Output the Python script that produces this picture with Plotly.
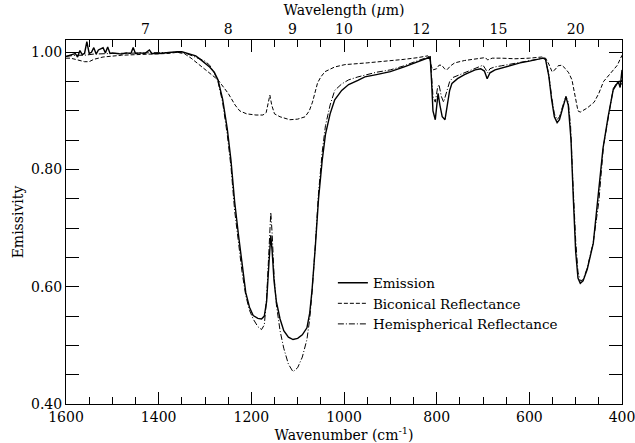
import plotly.graph_objects as go

# ---- data (wavenumber cm^-1, emissivity) ----
emis_wn = [1600, 1590, 1580, 1575, 1570, 1565, 1560, 1555, 1550, 1545, 1540, 1535, 1530, 1525,
           1520, 1515, 1510, 1505, 1500, 1490, 1480, 1470, 1460, 1455, 1450, 1440, 1430, 1420,
           1415, 1400, 1390, 1380, 1370, 1360, 1350, 1340, 1330, 1320, 1310, 1300, 1290, 1280,
           1272, 1262, 1252, 1244, 1236, 1228, 1220, 1212, 1204, 1196, 1186, 1178, 1172, 1167,
           1162, 1158, 1155, 1151, 1146, 1138, 1130, 1120, 1110, 1100, 1090, 1080, 1074, 1069,
           1062, 1055, 1047, 1040, 1030, 1020, 1005, 990, 970, 955, 930, 900, 870, 847, 830, 818,
           814, 811, 808, 803, 800, 797, 793, 788, 782, 777, 772, 767, 755, 740, 725, 717, 705,
           697, 691, 685, 674, 660, 640, 620, 600, 580, 570, 565, 558, 552, 546, 540, 535, 528,
           521, 516, 510, 505, 500, 495, 490, 484, 475, 462, 451, 441, 430, 419, 412, 408, 404,
           402, 400]
emis_val = [0.993, 0.995, 0.998, 0.992, 1.003, 0.996, 0.998, 1.018, 0.998, 1.000, 1.008, 0.997,
            1.004, 1.006, 1.008, 0.999, 1.009, 0.998, 0.999, 0.998, 0.997, 0.999, 0.998, 1.008,
            0.998, 0.999, 0.998, 1.004, 0.998, 0.998, 0.999, 0.999, 1.000, 1.001, 1.001, 0.999,
            0.997, 0.994, 0.988, 0.982, 0.975, 0.966, 0.953, 0.920, 0.870, 0.816, 0.745, 0.690,
            0.635, 0.590, 0.565, 0.551, 0.546, 0.545, 0.550, 0.575, 0.640, 0.688, 0.660, 0.610,
            0.575, 0.545, 0.525, 0.514, 0.510, 0.512, 0.518, 0.530, 0.555, 0.594, 0.667, 0.750,
            0.816, 0.860, 0.895, 0.919, 0.935, 0.945, 0.952, 0.958, 0.962, 0.967, 0.975, 0.982,
            0.987, 0.991, 0.992, 0.950, 0.900, 0.885, 0.910, 0.930, 0.910, 0.890, 0.885, 0.910,
            0.935, 0.947, 0.955, 0.962, 0.967, 0.970, 0.972, 0.968, 0.955, 0.965, 0.970, 0.973,
            0.978, 0.982, 0.985, 0.988, 0.990, 0.988, 0.960, 0.920, 0.890, 0.880, 0.885, 0.905,
            0.924, 0.910, 0.850, 0.750, 0.660, 0.615, 0.606, 0.610, 0.630, 0.674, 0.765, 0.836,
            0.890, 0.936, 0.945, 0.950, 0.940, 0.955, 0.970]

bicon_wn = [1600, 1590, 1580, 1570, 1560, 1550, 1540, 1520, 1500, 1480, 1450, 1420, 1400, 1380,
            1360, 1345, 1330, 1311, 1290, 1272, 1250, 1235, 1225, 1210, 1190, 1175, 1168, 1163,
            1160, 1156, 1150, 1138, 1117, 1100, 1084, 1075, 1068, 1063, 1057, 1050, 1041, 1020,
            998, 950, 918, 870, 840, 819, 815, 811, 808, 800, 795, 789, 783, 778, 770, 761, 740,
            720, 702, 695, 690, 680, 660, 631, 600, 573, 565, 558, 551, 545, 538, 530, 522, 515,
            508, 502, 495, 490, 475, 460, 450, 440, 430, 420, 410, 403, 400]
bicon_val = [0.990, 0.990, 0.988, 0.986, 0.984, 0.984, 0.988, 0.992, 0.994, 0.995, 0.996, 0.997,
             0.997, 0.998, 1.000, 0.998, 0.990, 0.978, 0.965, 0.953, 0.930, 0.910, 0.900, 0.895,
             0.893, 0.893, 0.897, 0.915, 0.927, 0.910, 0.895, 0.890, 0.885, 0.886, 0.890, 0.900,
             0.915, 0.930, 0.948, 0.958, 0.967, 0.975, 0.979, 0.982, 0.984, 0.988, 0.991, 0.994,
             0.990, 0.975, 0.970, 0.972, 0.978, 0.978, 0.972, 0.970, 0.977, 0.982, 0.986, 0.988,
             0.990, 0.991, 0.987, 0.990, 0.990, 0.989, 0.990, 0.992, 0.990, 0.980, 0.967, 0.970,
             0.977, 0.978, 0.972, 0.965, 0.953, 0.930, 0.900, 0.898, 0.905, 0.915, 0.930, 0.950,
             0.960, 0.970, 0.978, 0.990, 0.995]

hemi_wn = [1600, 1580, 1560, 1540, 1500, 1450, 1400, 1360, 1340, 1320, 1300, 1290, 1280, 1272,
           1262, 1252, 1244, 1236, 1228, 1220, 1212, 1204, 1196, 1186, 1178, 1172, 1167, 1162,
           1158, 1155, 1151, 1146, 1138, 1130, 1120, 1110, 1100, 1090, 1080, 1074, 1069, 1062,
           1055, 1047, 1040, 1030, 1020, 1005, 990, 970, 950, 930, 900, 870, 847, 830, 814, 811,
           808, 803, 798, 795, 790, 785, 780, 772, 765, 750, 735, 720, 710, 700, 695, 690, 685,
           675, 660, 640, 620, 600, 580, 570, 565, 558, 552, 546, 540, 535, 528, 521, 516, 511,
           506, 500, 495, 490, 484, 475, 462, 450, 440, 430, 419, 412, 406, 402, 400]
hemi_val = [0.993, 0.995, 0.995, 0.997, 0.998, 0.999, 0.999, 1.000, 0.998, 0.992, 0.985, 0.978,
            0.965, 0.950, 0.915, 0.860, 0.805, 0.730, 0.675, 0.625, 0.585, 0.560, 0.545, 0.532,
            0.527, 0.535, 0.580, 0.660, 0.727, 0.690, 0.620, 0.570, 0.525, 0.495, 0.468, 0.455,
            0.462, 0.480, 0.510, 0.545, 0.590, 0.670, 0.760, 0.830, 0.875, 0.910, 0.935, 0.946,
            0.953, 0.958, 0.962, 0.966, 0.970, 0.977, 0.984, 0.988, 0.993, 0.960, 0.925, 0.915,
            0.940, 0.945, 0.925, 0.915, 0.930, 0.950, 0.957, 0.962, 0.967, 0.972, 0.976, 0.978,
            0.972, 0.965, 0.972, 0.975, 0.977, 0.980, 0.983, 0.986, 0.988, 0.990, 0.988, 0.962,
            0.925, 0.895, 0.885, 0.890, 0.908, 0.925, 0.915, 0.875, 0.780, 0.680, 0.625, 0.610,
            0.612, 0.632, 0.676, 0.745, 0.840, 0.885, 0.938, 0.947, 0.952, 0.945, 0.960]

wavelength_labels = [7, 8, 9, 10, 12, 15, 20]          # micrometres, top axis
wavenumber_ticks = [1600, 1400, 1200, 1000, 800, 600, 400]
emissivity_ticks = [0.40, 0.60, 0.80, 1.00]

FONT = "DejaVu Serif"

fig = go.Figure()
fig.add_trace(go.Scatter(x=emis_wn, y=emis_val, mode="lines", name="Emission",
                         line=dict(color="black", width=1.4)))
fig.add_trace(go.Scatter(x=bicon_wn, y=bicon_val, mode="lines", name="Biconical Reflectance",
                         line=dict(color="black", width=1, dash="4px,2px")))
fig.add_trace(go.Scatter(x=hemi_wn, y=hemi_val, mode="lines", name="Hemispherical Reflectance",
                         line=dict(color="black", width=1, dash="6px,2px,1px,2px")))
# invisible trace to activate the top (wavelength) axis
fig.add_trace(go.Scatter(x=[emis_wn[0], emis_wn[-1]], y=[emis_val[0], emis_val[-1]],
                         xaxis="x2", mode="lines", line=dict(width=0), opacity=0,
                         showlegend=False, hoverinfo="skip"))

axis_common = dict(showline=True, linecolor="black", linewidth=1, showgrid=False,
                   zeroline=False, ticks="inside", tickcolor="black", automargin=False,
                   ticklabeloverflow="allow",
                   tickfont=dict(family=FONT, size=14, color="black"))

fig.update_layout(
    width=635, height=443,
    margin=dict(l=66, r=13, t=40, b=39),
    paper_bgcolor="white", plot_bgcolor="white",
    font=dict(family=FONT, size=14, color="black"),
    hovermode=False,
    xaxis=dict(**axis_common, range=[1600, 400], tickvals=wavenumber_ticks,
               ticklen=12, mirror="allticks",
               minor=dict(dtick=50, tick0=400, ticklen=7, ticks="inside", tickcolor="black"),
               title=dict(text="Wavenumber (cm<sup>-1</sup>)", standoff=0,
                          font=dict(family=FONT, size=14))),
    xaxis2=dict(overlaying="x", side="top", range=[1600, 400], showline=False,
                showgrid=False, zeroline=False, ticks="", automargin=False,
                ticklabelstandoff=2, ticklabeloverflow="allow",
                tickvals=[10000 / w for w in wavelength_labels],
                ticktext=[str(w) for w in wavelength_labels],
                tickfont=dict(family=FONT, size=14, color="black"),
                title=dict(text="Wavelength (<i>µ</i>m)", standoff=2,
                           font=dict(family=FONT, size=14))),
    yaxis=dict(**axis_common, range=[0.40, 1.021], tickvals=emissivity_ticks,
               tickformat=".2f", ticklen=13, mirror="allticks",
               minor=dict(dtick=0.05, tick0=0.4, ticklen=7, ticks="inside", tickcolor="black"),
               title=dict(text="Emissivity", standoff=4, font=dict(family=FONT, size=14))),
    legend=dict(x=0.48, y=0.375, xanchor="left", yanchor="top",
                bgcolor="rgba(0,0,0,0)", font=dict(family=FONT, size=13.5),
                tracegroupgap=0, itemwidth=30),
    showlegend=True,
)

fig.write_html("out.html",
               config={"displayModeBar": False, "staticPlot": True},
               post_script="document.body.style.margin='0';"
                           "document.body.style.overflow='hidden';")
